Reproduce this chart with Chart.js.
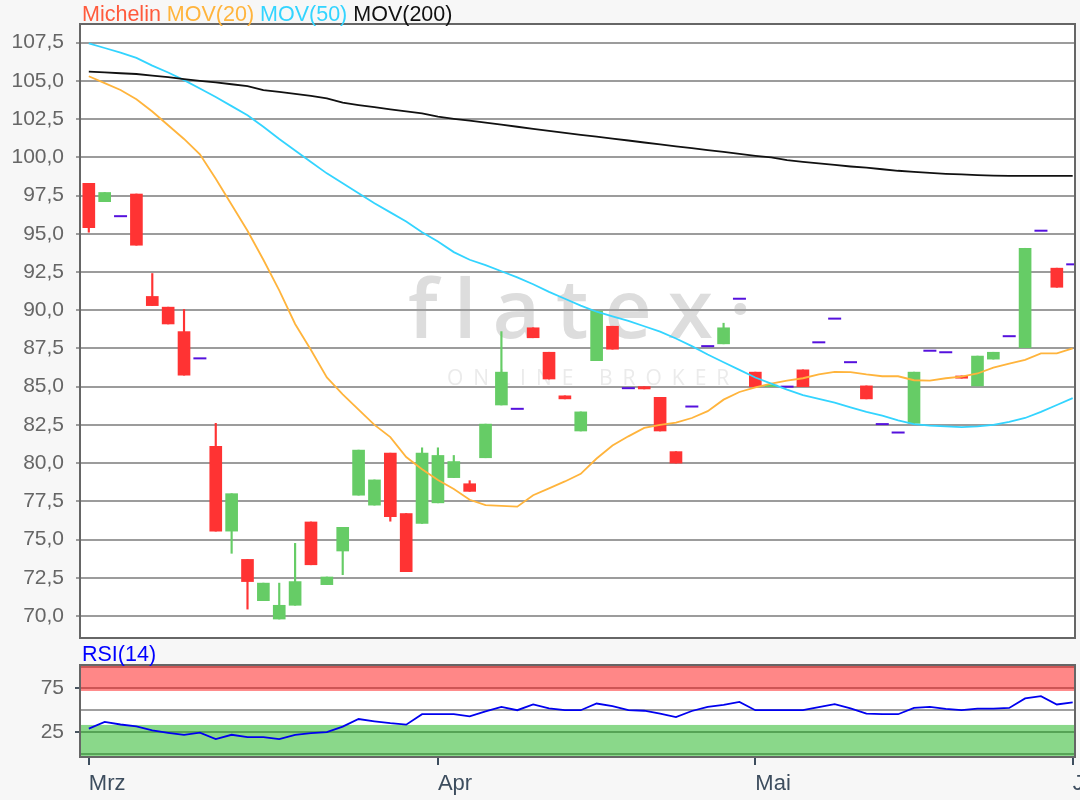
<!DOCTYPE html>
<html>
<head>
<meta charset="utf-8">
<script src="https://cdn.jsdelivr.net/npm/chart.js@4.4.0/dist/chart.umd.min.js"></script>
<style>
  body { margin: 0; background: #f7f7f7; }
  #wrap { position: relative; width: 1080px; height: 800px; overflow: hidden; font-family: 'Liberation Sans', Arial, sans-serif; }
  #main { position: absolute; left: 0; top: 0; }
  #rsi { position: absolute; left: 0; top: 645px; }
  .lbl { position: absolute; left: 82px; font-size: 21.5px; line-height: 21px; white-space: nowrap; }
</style>
</head>
<body>
<div id="wrap">
  <canvas id="main" width="1080" height="645"></canvas>
  <canvas id="rsi" width="1080" height="155"></canvas>
  <div class="lbl" style="top:4px"><span style="color:#ff5a3c">Michelin</span> <span style="color:#ffb43c">MOV(20)</span> <span style="color:#33d4ff">MOV(50)</span> <span style="color:#111">MOV(200)</span></div>
  <div class="lbl" style="top:644px;color:#0000ff">RSI(14)</div>
</div>
<script>
// Handelstage Maerz - Juni 2020
var days = ['02.03.','03.03.','04.03.','05.03.','06.03.','09.03.','10.03.','11.03.','12.03.','13.03.','16.03.','17.03.','18.03.','19.03.','20.03.','23.03.','24.03.','25.03.','26.03.','27.03.','30.03.','31.03.',
  '01.04.','02.04.','03.04.','06.04.','07.04.','08.04.','09.04.','14.04.','15.04.','16.04.','17.04.','20.04.','21.04.','22.04.','23.04.','24.04.','27.04.','28.04.','29.04.','30.04.',
  '04.05.','05.05.','06.05.','07.05.','08.05.','11.05.','12.05.','13.05.','14.05.','15.05.','18.05.','19.05.','20.05.','21.05.','22.05.','25.05.','26.05.','27.05.','28.05.','29.05.',
  '01.06.'];

var open = [98.3, 97.1, 96.15, 97.6, 90.9, 90.2, 88.6, 86.85, 81.1, 75.55,
  73.7, 71.0, 69.8, 70.7, 76.15, 72.05, 74.25, 77.9, 77.25, 80.65,
  76.7, 76.05, 77.4, 79.05, 78.65, 80.35, 83.8, 83.55, 88.85, 87.25,
  84.4, 82.1, 86.7, 88.95, 84.9, 85.0, 84.3, 80.75, 83.7, 87.65,
  87.8, 90.75, 85.95, 85.0, 85.0, 86.1, 87.9, 89.45, 86.6, 85.05,
  82.55, 82.0, 82.6, 87.35, 87.25, 85.7, 85.05, 86.8, 88.3, 87.55,
  95.2, 92.75, 93.0];
var high = [98.3, 97.7, 96.15, 97.6, 92.4, 90.2, 90.05, 86.85, 82.6, 78.0,
  73.7, 72.15, 72.15, 74.75, 76.15, 72.55, 75.8, 80.85, 78.9, 80.65,
  76.7, 81.0, 81.0, 80.5, 78.85, 82.55, 88.6, 83.55, 88.85, 87.25,
  84.4, 83.35, 89.95, 88.95, 84.9, 85.0, 84.3, 80.75, 83.7, 87.65,
  89.15, 90.75, 85.95, 85.1, 85.0, 86.1, 87.9, 89.45, 86.6, 85.05,
  82.55, 82.0, 85.95, 87.35, 87.25, 85.7, 87.0, 87.25, 88.3, 94.05,
  95.2, 92.75, 93.0];
var low = [95.1, 97.1, 96.15, 94.25, 90.3, 89.1, 85.75, 86.85, 75.55, 74.1,
  70.45, 71.0, 69.8, 70.7, 73.35, 72.05, 72.7, 77.9, 77.25, 76.2,
  72.9, 76.05, 77.4, 79.05, 78.15, 80.35, 83.8, 83.55, 88.2, 85.5,
  84.2, 82.1, 86.7, 87.45, 84.9, 84.85, 82.1, 80.0, 83.7, 87.65,
  87.8, 90.75, 85.0, 85.0, 85.0, 85.0, 87.9, 89.45, 86.6, 84.2,
  82.55, 82.0, 82.6, 87.35, 87.25, 85.55, 85.05, 86.8, 88.3, 87.55,
  95.2, 91.5, 93.0];
var close = [95.4, 97.7, 96.15, 94.25, 90.3, 89.1, 85.75, 86.85, 75.55, 78.0,
  72.25, 72.15, 70.7, 72.25, 73.35, 72.55, 75.8, 80.85, 78.9, 76.5,
  72.9, 80.65, 80.5, 80.1, 78.15, 82.55, 85.95, 83.55, 88.2, 85.5,
  84.2, 83.35, 89.95, 87.45, 84.9, 84.85, 82.1, 80.0, 83.7, 87.65,
  88.85, 90.75, 85.0, 85.1, 85.0, 85.0, 87.9, 89.45, 86.6, 84.2,
  82.55, 82.0, 85.95, 87.35, 87.25, 85.55, 87.0, 87.25, 88.3, 94.05,
  95.2, 91.5, 93.0];

var ma20 = [105.3, 104.85, 104.4, 103.8, 103.0, 102.1, 101.2, 100.2, 98.6, 96.9,
  95.2, 93.3, 91.3, 89.1, 87.4, 85.6, 84.5, 83.5, 82.5, 81.7,
  80.4, 79.6, 78.9, 78.3, 77.6, 77.25, 77.2, 77.15, 77.9, 78.35,
  78.8, 79.3, 80.3, 81.15, 81.75, 82.3, 82.5, 82.65, 82.95, 83.4,
  84.15, 84.65, 84.95, 85.2, 85.4, 85.55, 85.8, 85.97, 85.95, 85.8,
  85.68, 85.68, 85.42, 85.4, 85.55, 85.65, 85.86, 86.25, 86.5, 86.75,
  87.17, 87.17, 87.5];
var ma50 = [107.45, 107.15, 106.85, 106.5, 106.0, 105.55, 105.05, 104.5, 103.95, 103.35,
  102.75, 102.0, 101.2, 100.45, 99.7, 98.95, 98.3, 97.65, 97.0, 96.4,
  95.8, 95.1, 94.5, 93.8, 93.3, 92.95, 92.55, 92.15, 91.7, 91.2,
  90.75, 90.3, 89.9, 89.6, 89.3, 88.95, 88.6, 88.15, 87.65, 87.1,
  86.6, 86.1, 85.6, 85.2, 84.8, 84.45, 84.2, 83.95, 83.65, 83.35,
  83.1, 82.8, 82.55, 82.45, 82.4, 82.35, 82.4, 82.5, 82.7, 82.95,
  83.35, 83.8, 84.25];
var ma200 = [105.6, 105.55, 105.5, 105.45, 105.35, 105.25, 105.12, 105.0, 104.9, 104.78,
  104.66, 104.4, 104.28, 104.15, 104.02, 103.86, 103.57, 103.42, 103.28, 103.14,
  103.0, 102.88, 102.66, 102.52, 102.4, 102.27, 102.14, 102.0, 101.86, 101.73,
  101.6, 101.47, 101.35, 101.22, 101.1, 100.97, 100.85, 100.72, 100.6, 100.47,
  100.35, 100.22, 100.1, 100.0, 99.82, 99.7, 99.6, 99.5, 99.4, 99.32,
  99.22, 99.12, 99.05, 98.98, 98.92, 98.88, 98.84, 98.8, 98.78, 98.78,
  98.78, 98.78, 98.78];
var rsi = [28.7, 36.4, 33.5, 31.4, 26.7, 24.0, 21.7, 24.1, 16.7, 21.7,
  19.0, 19.0, 16.7, 21.7, 23.5, 24.8, 31.0, 39.8, 37.2, 35.0,
  33.3, 45.3, 45.3, 45.3, 42.9, 48.5, 53.7, 49.9, 56.5, 52.0,
  49.9, 49.9, 57.6, 54.5, 49.9, 49.3, 46.0, 42.1, 49.0, 53.7,
  56.0, 59.5, 49.9, 49.9, 49.9, 49.9, 53.5, 56.8, 52.0, 46.0,
  45.3, 45.3, 52.5, 53.7, 51.5, 49.9, 51.8, 51.8, 52.5, 63.4,
  66.1, 56.5, 58.8];

var yTicks = [70, 72.5, 75, 77.5, 80, 82.5, 85, 87.5, 90, 92.5, 95, 97.5, 100, 102.5, 105, 107.5];
var rsiTicks = [0, 25, 50, 75, 100];
var rsiLabelled = [25, 75];
var rsiHigh = 72, rsiLow = 33;
var monthTicks = [0, 22, 42, 62];
var monthLabels = ['Mrz', 'Apr', 'Mai', 'Jun'];

Chart.defaults.font.family = "'Liberation Sans', Arial, sans-serif";

var xMin = -0.555, xMax = 62.145;
var red = '#ff3333', green = '#66cc66';
var idx = days.map(function (d, i) { return i; });
function isDash(i) { return open[i] === close[i] && high[i] === low[i]; }
function candleColor(c) { return close[c.raw.x] >= open[c.raw.x] ? green : red; }
function pts(arr) { return arr.map(function (v, i) { return { x: i, y: v }; }); }

// weisser Plotbereich, Wasserzeichen, RSI-Baender, Rahmen
var frame = {
  id: 'frame',
  beforeDraw: function (chart, args, opts) {
    var ctx = chart.ctx, a = chart.chartArea;
    ctx.save();
    ctx.fillStyle = '#fff';
    ctx.fillRect(a.left, a.top, a.width, a.height);
    if (opts.mark) {
      ctx.textBaseline = 'alphabetic';
      ctx.fillStyle = '#dddddd';
      ctx.font = '600 82px "Open Sans"';
      ctx.letterSpacing = '16px';
      ctx.fillText('flatex\u00b7', 408, 338);
      ctx.fillStyle = '#ebebeb';
      ctx.font = '21px "Open Sans"';
      ctx.letterSpacing = '10px';
      ctx.fillText('ONLINE BROKER', 447, 385);
    }
    ctx.restore();
  },
  beforeDatasetsDraw: function (chart, args, opts) {
    if (!opts.bands) return;
    var ctx = chart.ctx, a = chart.chartArea, y = chart.scales.y;
    var yHi = y.getPixelForValue(rsiHigh), yLo = y.getPixelForValue(rsiLow);
    ctx.save();
    ctx.fillStyle = 'rgba(255,0,0,0.47)';
    ctx.fillRect(a.left, a.top, a.width, yHi - a.top);
    ctx.fillStyle = 'rgba(0,170,0,0.46)';
    ctx.fillRect(a.left, yLo, a.width, a.bottom - yLo);
    ctx.restore();
  },
  afterDraw: function (chart) {
    var ctx = chart.ctx, a = chart.chartArea;
    ctx.save();
    ctx.strokeStyle = '#666';
    ctx.lineWidth = 2;
    ctx.strokeRect(a.left, a.top, a.width, a.height);
    ctx.restore();
  }
};

var lineBase = { type: 'line', borderWidth: 1.8, pointRadius: 0, tension: 0, order: 1 };

new Chart(document.getElementById('main'), {
  type: 'bar',
  data: {
    datasets: [
      Object.assign({ label: 'MOV(200)', data: pts(ma200), borderColor: '#111' }, lineBase),
      Object.assign({ label: 'MOV(50)', data: pts(ma50), borderColor: '#33d4ff' }, lineBase),
      Object.assign({ label: 'MOV(20)', data: pts(ma20), borderColor: '#ffb43c' }, lineBase),
      {
        type: 'line', label: 'Michelin',
        data: idx.filter(isDash).map(function (i) { return { x: i, y: close[i] }; }),
        showLine: false, pointStyle: 'line', pointRadius: 6.5, pointHoverRadius: 6.5,
        pointBorderWidth: 2, pointBorderColor: '#5511dd', borderColor: '#5511dd', order: 2
      },
      {
        label: 'Michelin',
        data: idx.filter(function (i) { return !isDash(i); }).map(function (i) {
          return { x: i, y: [Math.min(open[i], close[i]), Math.max(open[i], close[i])] };
        }),
        backgroundColor: candleColor, barThickness: 12, grouped: false, order: 3
      },
      {
        label: 'Michelin',
        data: idx.filter(function (i) { return !isDash(i); }).map(function (i) {
          return { x: i, y: [low[i], high[i]] };
        }),
        backgroundColor: candleColor, barThickness: 1.5, grouped: false, order: 4
      }
    ]
  },
  options: {
    responsive: false,
    animation: false,
    layout: { autoPadding: false, padding: { left: 0, right: 5, top: 24, bottom: 7 } },
    plugins: { legend: { display: false }, tooltip: { enabled: false }, frame: { mark: true } },
    scales: {
      x: { type: 'linear', min: xMin, max: xMax, offset: false, display: false },
      y: {
        min: 68.56, max: 108.72,
        afterBuildTicks: function (s) { s.ticks = yTicks.map(function (v) { return { value: v }; }); },
        afterFit: function (s) { s.width = 80; s.paddingTop = 0; s.paddingBottom = 0; },
        border: { display: false },
        grid: { color: '#9c9c9c', lineWidth: 2, tickLength: 4 },
        ticks: {
          autoSkip: false, color: '#666', font: { size: 21 }, padding: 12,
          callback: function (v) { return v.toFixed(1).replace('.', ','); }
        }
      }
    }
  },
  plugins: [frame]
});

new Chart(document.getElementById('rsi'), {
  type: 'line',
  data: {
    datasets: [{ label: 'RSI(14)', data: pts(rsi), borderColor: '#0000ee', borderWidth: 1.8, pointRadius: 0, tension: 0 }]
  },
  options: {
    responsive: false,
    animation: false,
    layout: { autoPadding: false, padding: { left: 0, right: 5, top: 20, bottom: 0 } },
    plugins: { legend: { display: false }, tooltip: { enabled: false }, frame: { bands: true } },
    scales: {
      x: {
        type: 'linear', min: xMin, max: xMax, offset: false,
        afterBuildTicks: function (s) { s.ticks = monthTicks.map(function (v) { return { value: v }; }); },
        afterFit: function (s) { s.height = 43; s.paddingLeft = 0; s.paddingRight = 0; },
        border: { display: false },
        grid: { drawOnChartArea: false, tickLength: 8, tickColor: '#3d4d5e', lineWidth: 2 },
        ticks: {
          align: 'start', maxRotation: 0, autoSkip: false, padding: 6,
          color: '#3d4d5e', font: { size: 22 },
          callback: function (v) { return monthLabels[monthTicks.indexOf(v)]; }
        }
      },
      y: {
        min: -3.8, max: 101.8,
        afterBuildTicks: function (s) { s.ticks = rsiTicks.map(function (v) { return { value: v }; }); },
        afterFit: function (s) { s.width = 80; s.paddingTop = 0; s.paddingBottom = 0; },
        border: { display: false },
        grid: {
          color: '#a0a0a0', lineWidth: 2, tickLength: 5,
          tickColor: function (c) { return rsiLabelled.indexOf(c.tick.value) >= 0 ? '#4a5560' : 'rgba(0,0,0,0)'; }
        },
        ticks: {
          autoSkip: false, color: '#666', font: { size: 21 }, padding: 11,
          callback: function (v) { return rsiLabelled.indexOf(v) >= 0 ? String(v) : ''; }
        }
      }
    }
  },
  plugins: [frame]
});
</script>
</body>
</html>
